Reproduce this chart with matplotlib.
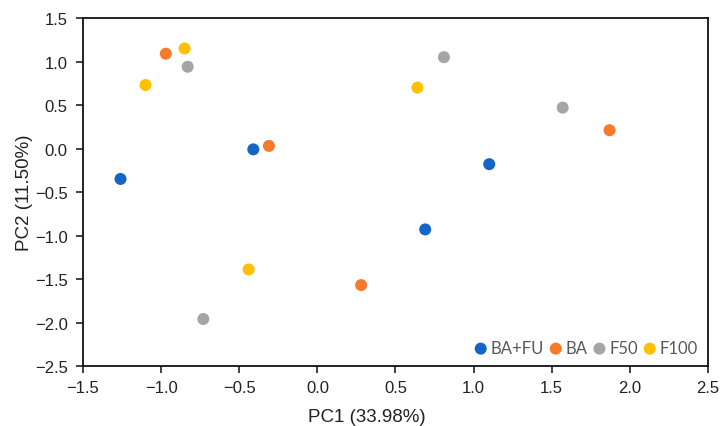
import matplotlib
matplotlib.use("Agg")
import matplotlib.pyplot as plt

plt.rcParams['font.family'] = ['Liberation Sans', 'DejaVu Sans']

groups = ["BA+FU", "BA", "F50", "F100"]
colors = ["#1565C8", "#F57A2C", "#A5A5A5", "#FFC000"]

pc1_bafu = [-1.26, -0.41, 1.10, 0.69]
pc2_bafu = [-0.35, -0.01, -0.18, -0.93]
pc1_ba = [-0.97, -0.31, 1.87, 0.28]
pc2_ba = [1.09, 0.03, 0.21, -1.57]
pc1_f50 = [-0.83, 0.81, 1.57, -0.73]
pc2_f50 = [0.94, 1.05, 0.47, -1.96]
pc1_f100 = [-1.10, -0.85, 0.64, -0.44]
pc2_f100 = [0.73, 1.15, 0.70, -1.39]

xs = [pc1_bafu, pc1_ba, pc1_f50, pc1_f100]
ys = [pc2_bafu, pc2_ba, pc2_f50, pc2_f100]

fig = plt.figure(figsize=(7.2, 4.27), dpi=100)
ax = fig.add_axes([0.1153, 0.1405, 0.868, 0.815])

for name, c, x, y in zip(groups, colors, xs, ys):
    ax.scatter(x, y, s=75, color=c, label=name, edgecolors='none', zorder=3)

ax.set_xlim(-1.5, 2.5)
ax.set_ylim(-2.5, 1.5)
ax.set_xticks([-1.5, -1.0, -0.5, 0.0, 0.5, 1.0, 1.5, 2.0, 2.5])
ax.set_yticks([-2.5, -2.0, -1.5, -1.0, -0.5, 0.0, 0.5, 1.0, 1.5])
fmt = plt.FuncFormatter(lambda v, p: f"{v:.1f}".replace("-", "\u2212"))
ax.xaxis.set_major_formatter(fmt)
ax.yaxis.set_major_formatter(fmt)
ax.tick_params(direction='out', length=5, width=1.2, labelsize=12, colors='#222222')
ax.tick_params(axis='x', pad=5)
ax.tick_params(axis='y', pad=6)
for sp in ax.spines.values():
    sp.set_linewidth(1.3)
    sp.set_color('#111111')

ax.set_xlabel("PC1 (33.98%)", fontsize=13.5, color='#222222')
ax.xaxis.set_label_coords(0.454, -0.122)
ax.set_ylabel("PC2 (11.50%)", fontsize=13.5, color='#222222')
ax.yaxis.set_label_coords(-0.08, 0.5)

leg = ax.legend(loc='lower right', ncol=4, frameon=False,
                handlelength=0.9, handletextpad=0.15, columnspacing=0.25,
                borderaxespad=0.3, borderpad=0.3,
                prop={'family': ['Lato', 'DejaVu Sans'], 'size': 12})
for t in leg.get_texts():
    t.set_color('#595959')

fig.savefig("out.png", dpi=100)
